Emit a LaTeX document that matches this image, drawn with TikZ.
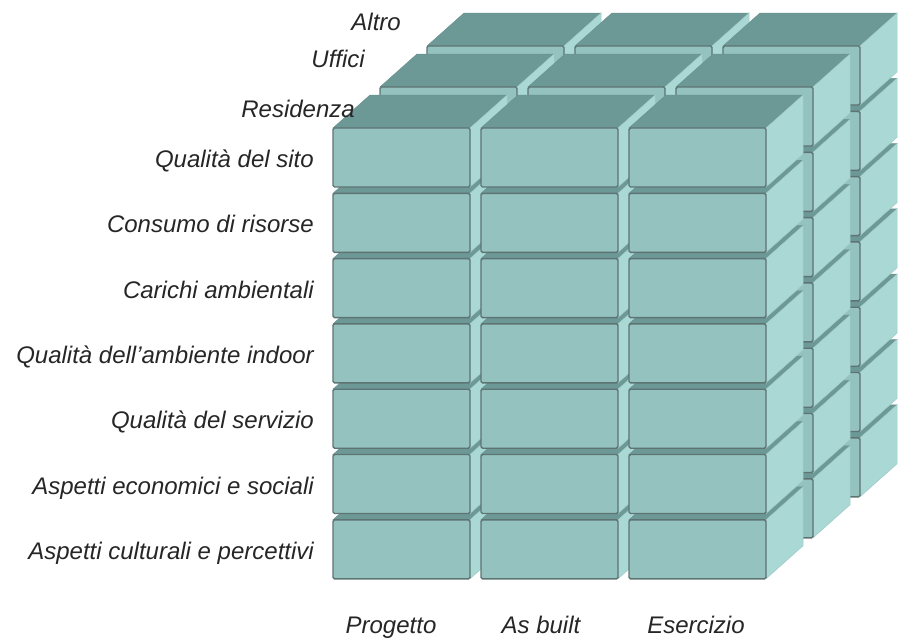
\documentclass[tikz,border=0pt]{standalone}
\usepackage{fontspec}
\setmainfont{Liberation Sans}
\definecolor{frontcol}{HTML}{93C2BF}
\definecolor{sidecol}{HTML}{AAD8D5}
\definecolor{topcol}{HTML}{6C9896}
\definecolor{edgecol}{HTML}{5E7472}

\begin{document}
\begin{tikzpicture}[x=1pt, y=-1pt,
  declare function={bw=137; bh=59; cx=148; ry=65.3; dx=37; dy=-33; lx=47; ly=-41;},
  lbl/.style={font=\fontsize{24}{28}\selectfont\itshape, inner sep=0pt, text=black!85},
  frontface/.style={fill=frontcol, draw=edgecol, line width=1.4pt, rounded corners=1.5pt},
  sideface/.style={fill=sidecol, draw=sidecol!85!edgecol, line width=0.5pt},
  topface/.style={fill=topcol, draw=topcol!85!edgecol, line width=0.5pt}]
\useasboundingbox (0,0) rectangle (905,638);

% 1. Boxes: back layer first, bottom row first, left column first
\foreach \k in {2,1,0}
  \foreach \r in {6,...,0}
    \foreach \c in {0,1,2}{
      \coordinate (p) at ({333+cx*\c+lx*\k}, {128+ry*\r+ly*\k});
      \filldraw[topface]  (p) -- ++(bw,0) -- ++(dx,dy) -- ++(-bw,0) -- cycle;
      \filldraw[sideface] (p) ++(bw,0) -- ++(dx,dy) -- ++(0,bh) -- ++(-dx,-dy) -- cycle;
      \draw[frontface] (p) rectangle ++(bw,bh);
    }

% 2. Criteria on the left
\foreach \t [count=\i] in {Qualità del sito, Consumo di risorse, Carichi ambientali,
    Qualità dell'ambiente indoor, Qualità del servizio,
    Aspetti economici e sociali, Aspetti culturali e percettivi}
  \node[lbl, anchor=base east] (crit-\i) at (314, {128+ry*(\i-1)+bh/2+10}) {\t};

% 3. Building types on top
\foreach \t/\x/\y [count=\i] in {Residenza/355/117, Uffici/365/67, Altro/401/30}
  \node[lbl, anchor=base east] (type-\i) at (\x,\y) {\t};

% 4. Phases below
\foreach \t/\x [count=\i] in {Progetto/391, As built/541, Esercizio/696}
  \node[lbl, anchor=base] (phase-\i) at (\x,633) {\t};
\end{tikzpicture}
\end{document}
